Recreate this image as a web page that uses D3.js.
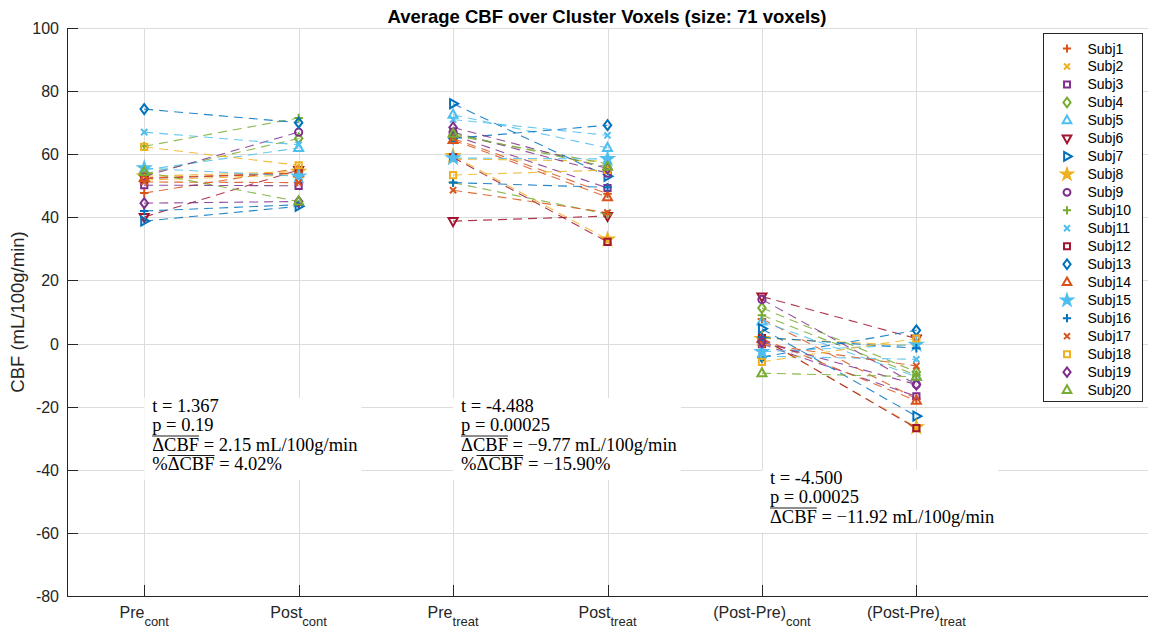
<!DOCTYPE html>
<html>
<head>
<meta charset="utf-8">
<script src="https://cdn.jsdelivr.net/npm/d3@7"></script>
<style>
  body { margin: 0; background: #fff; }
  svg { display: block; }
</style>
</head>
<body>
<svg id="chart"></svg>
<script>
// ---- data ----
var subjects = ['Subj1','Subj2','Subj3','Subj4','Subj5','Subj6','Subj7','Subj8','Subj9','Subj10',
                'Subj11','Subj12','Subj13','Subj14','Subj15','Subj16','Subj17','Subj18','Subj19','Subj20'];
var preCont   = [47.7, 51.8, 50.2, 53.7, 55.0, 40.1, 38.8, 53.0, 53.0, 62.5, 67.0, 52.3, 74.3, 52.5, 55.6, 42.0, 51.2, 62.3, 44.5, 54.4];
var postCont  = [55.5, 53.5, 50.0, 65.0, 62.0, 55.0, 43.5, 54.5, 67.0, 71.5, 63.0, 54.0, 70.0, 54.0, 53.0, 44.0, 51.0, 56.5, 45.0, 45.0];
var preTreat  = [65.0, 58.5, 66.0, 66.0, 72.5, 38.8, 76.0, 59.5, 67.0, 51.0, 71.0, 59.0, 65.0, 64.5, 58.8, 51.0, 48.6, 53.4, 68.5, 66.5];
var postTreat = [47.5, 57.8, 49.3, 57.0, 62.0, 40.4, 53.0, 33.0, 54.0, 41.0, 66.0, 32.2, 69.2, 46.4, 58.5, 49.5, 41.5, 55.0, 55.5, 56.0];
var diffCont  = [ 7.8,  1.7, -0.2, 11.3,  7.0, 14.9,  4.7,  1.5, 14.0,  9.0, -4.0,  1.7, -4.3,  1.5, -2.6,  2.0, -0.2, -5.8,  0.5, -9.4];
var diffTreat = [-17.5, -0.7, -16.7, -9.0, -10.5, 1.6, -23.0, -26.5, -13.0, -10.0, -5.0, -26.8, 4.2, -18.1, -0.3, -1.5, -7.1, 1.6, -13.0, -10.5];

var colors = ['#D95319','#EDB120','#7E2F8E','#77AC30','#4DBEEE','#A2142F','#0072BD','#EDB120','#7E2F8E','#77AC30',
              '#4DBEEE','#A2142F','#0072BD','#D95319','#4DBEEE','#0072BD','#D95319','#EDB120','#7E2F8E','#77AC30'];
var markers = ['plus','cross','square','diamond','up','down','right','star','circle','plus',
               'cross','square','diamond','up','star','plus','cross','square','diamond','up'];

var catMain = ['Pre', 'Post', 'Pre', 'Post', '(Post-Pre)', '(Post-Pre)'];
var catSub  = ['cont', 'cont', 'treat', 'treat', 'cont', 'treat'];
var yTicks  = [-80, -60, -40, -20, 0, 20, 40, 60, 80, 100];

var statT   = ['t = 1.367', 't = -4.488', 't = -4.500'];
var statP   = ['p = 0.19', 'p = 0.00025', 'p = 0.00025'];
var statD   = ['2.15', '\u22129.77', '\u221211.92'];
var statPct = ['4.02', '\u221215.90', null];

var titleText = 'Average CBF over Cluster Voxels (size: 71 voxels)';

// ---- layout ----
var W = 1157, H = 631;
var svg = d3.select('#chart').attr('width', W).attr('height', H);

var x = d3.scaleLinear().domain([0.5, 7.5]).range([67, 1148]);
var y = d3.scaleLinear().domain([-80, 100]).range([596, 28]);
var axisColor = '#262626';
var sansFont = 'Liberation Sans, Arial, Helvetica, sans-serif';
var serifFont = 'Liberation Serif, Times New Roman, serif';

// grid
var grid = svg.append('g').attr('stroke', '#dcdcdc').attr('stroke-width', 1);
yTicks.forEach(function (t) {
  grid.append('line').attr('x1', x(0.5)).attr('x2', x(7.5))
    .attr('y1', Math.round(y(t)) + 0.5).attr('y2', Math.round(y(t)) + 0.5);
});
catMain.forEach(function (c, i) {
  grid.append('line').attr('y1', y(-80)).attr('y2', y(100))
    .attr('x1', Math.round(x(i + 1)) + 0.5).attr('x2', Math.round(x(i + 1)) + 0.5);
});

// stat boxes (white background hides grid)
var boxes = [
  { cx: 1, top: 398 },
  { cx: 3, top: 398 },
  { cx: 5, top: 470 }
];
boxes.forEach(function (b, i) {
  var bx = x(b.cx);
  var g = svg.append('g');
  var rect = g.append('rect').attr('fill', '#fff');
  var lh = 19.5;
  var rows = [statT[i], statP[i], null];
  if (statPct[i] !== null) rows.push('pct');
  var maxW = 0;
  rows.forEach(function (r, k) {
    var ty = b.top + 13.5 + k * lh;
    var txt = g.append('text').attr('x', bx + 8).attr('y', ty)
      .attr('font-family', serifFont).attr('font-size', 18.5).attr('fill', '#000');
    if (k < 2) {
      txt.text(r);
    } else {
      var prefix = (k === 3) ? '%' : '';
      var rest = (k === 3) ? ' = ' + statPct[i] + '%' : ' = ' + statD[i] + ' mL/100g/min';
      txt.append('tspan').text(prefix);
      txt.append('tspan').text('\u0394CBF');
      txt.append('tspan').text(rest);
      var node = txt.node();
      var x0 = prefix.length ? node.getSubStringLength(0, prefix.length) : 0;
      var wd = node.getSubStringLength(prefix.length, 4);
      g.append('line').attr('x1', bx + 8 + x0).attr('x2', bx + 8 + x0 + wd)
        .attr('y1', ty - 14.5).attr('y2', ty - 14.5)
        .attr('stroke', '#000').attr('stroke-width', 0.9);
    }
    maxW = Math.max(maxW, txt.node().getComputedTextLength());
  });
  rect.attr('x', bx).attr('y', b.top).attr('width', maxW + 12).attr('height', rows.length * lh + 4);
});

// markers
function markerPath(type, s) {
  var p = d3.path();
  if (type === 'plus') {
    s = s * 0.85;
    p.moveTo(-s, 0); p.lineTo(s, 0); p.moveTo(0, -s); p.lineTo(0, s);
    return p.toString();
  }
  if (type === 'cross') {
    s = s * 0.62;
    p.moveTo(-s, -s); p.lineTo(s, s); p.moveTo(-s, s); p.lineTo(s, -s);
    return p.toString();
  }
  if (type === 'square') {
    s = s * 0.62;
    p.rect(-s, -s, 2 * s, 2 * s);
    return p.toString();
  }
  if (type === 'diamond') {
    p.moveTo(0, -s); p.lineTo(s * 0.75, 0); p.lineTo(0, s); p.lineTo(-s * 0.75, 0); p.closePath();
    return p.toString();
  }
  if (type === 'circle') {
    p.arc(0, 0, s * 0.72, 0, 2 * Math.PI);
    return p.toString();
  }
  if (type === 'star') {
    return d3.symbol(d3.symbolStar, s * s * 1.6)();
  }
  var pts;
  if (type === 'up') pts = [[0, -s], [s * 0.9, s * 0.6], [-s * 0.9, s * 0.6]];
  if (type === 'down') pts = [[0, s], [s * 0.9, -s * 0.6], [-s * 0.9, -s * 0.6]];
  if (type === 'right') pts = [[s, 0], [-s * 0.6, -s * 0.9], [-s * 0.6, s * 0.9]];
  p.moveTo(pts[0][0], pts[0][1]); p.lineTo(pts[1][0], pts[1][1]); p.lineTo(pts[2][0], pts[2][1]); p.closePath();
  return p.toString();
}

var columns = [preCont, postCont, preTreat, postTreat, diffCont, diffTreat];
var pairs = [[0, 1], [2, 3], [4, 5]];

var plot = svg.append('g');
subjects.forEach(function (s, i) {
  var g = plot.append('g');
  pairs.forEach(function (pr) {
    g.append('line')
      .attr('x1', x(pr[0] + 1)).attr('y1', y(columns[pr[0]][i]))
      .attr('x2', x(pr[1] + 1)).attr('y2', y(columns[pr[1]][i]))
      .attr('stroke', colors[i]).attr('stroke-opacity', 0.85)
      .attr('stroke-width', 1.1).attr('stroke-dasharray', '9,6');
  });
  columns.forEach(function (col, c) {
    g.append('path')
      .attr('d', markerPath(markers[i], 5))
      .attr('transform', 'translate(' + x(c + 1) + ',' + y(col[i]) + ')')
      .attr('fill', markers[i] === 'star' ? colors[i] : 'none')
      .attr('stroke', colors[i]).attr('stroke-width', 2);
  });
});

// axes
var ax = svg.append('g').attr('stroke', axisColor).attr('stroke-width', 1);
ax.append('line').attr('x1', 67.5).attr('x2', 67.5).attr('y1', y(100)).attr('y2', y(-80) + 0.5);
ax.append('line').attr('x1', 67).attr('x2', x(7.5)).attr('y1', 596.5).attr('y2', 596.5);
yTicks.forEach(function (t) {
  ax.append('line').attr('x1', 67).attr('x2', 78)
    .attr('y1', Math.round(y(t)) + 0.5).attr('y2', Math.round(y(t)) + 0.5);
  svg.append('text').attr('x', 59).attr('y', y(t) + 6).attr('text-anchor', 'end')
    .attr('font-family', sansFont).attr('font-size', 16).attr('fill', axisColor).text(t);
});
catMain.forEach(function (c, i) {
  var cx = Math.round(x(i + 1)) + 0.5;
  ax.append('line').attr('x1', cx).attr('x2', cx).attr('y1', 596).attr('y2', 585);
  var t = svg.append('text').attr('x', x(i + 1)).attr('y', 618).attr('text-anchor', 'middle')
    .attr('font-family', sansFont).attr('font-size', 16).attr('fill', axisColor);
  t.append('tspan').text(c);
  t.append('tspan').attr('font-size', 13).attr('dy', 8).text(catSub[i]);
});

svg.append('text')
  .attr('transform', 'translate(24,' + y(10) + ') rotate(-90)')
  .attr('text-anchor', 'middle').attr('font-family', sansFont).attr('font-size', 18.5)
  .attr('fill', axisColor).text('CBF (mL/100g/min)');

svg.append('text').attr('x', 607).attr('y', 23).attr('text-anchor', 'middle')
  .attr('font-family', sansFont).attr('font-size', 18.5).attr('font-weight', 'bold')
  .attr('fill', '#000').text(titleText);

// legend
var lg = svg.append('g').attr('transform', 'translate(1043.5,33.5)');
lg.append('rect').attr('width', 99).attr('height', 368).attr('fill', '#fff')
  .attr('stroke', axisColor).attr('stroke-width', 1);
subjects.forEach(function (s, i) {
  var ly = 15 + i * 17.98;
  lg.append('path').attr('d', markerPath(markers[i], 4.8))
    .attr('transform', 'translate(23.5,' + ly + ')')
    .attr('fill', markers[i] === 'star' ? colors[i] : 'none')
    .attr('stroke', colors[i]).attr('stroke-width', 2);
  lg.append('text').attr('x', 44).attr('y', ly + 5).attr('font-family', sansFont)
    .attr('font-size', 14).attr('fill', '#000').text(s);
});
</script>
</body>
</html>
